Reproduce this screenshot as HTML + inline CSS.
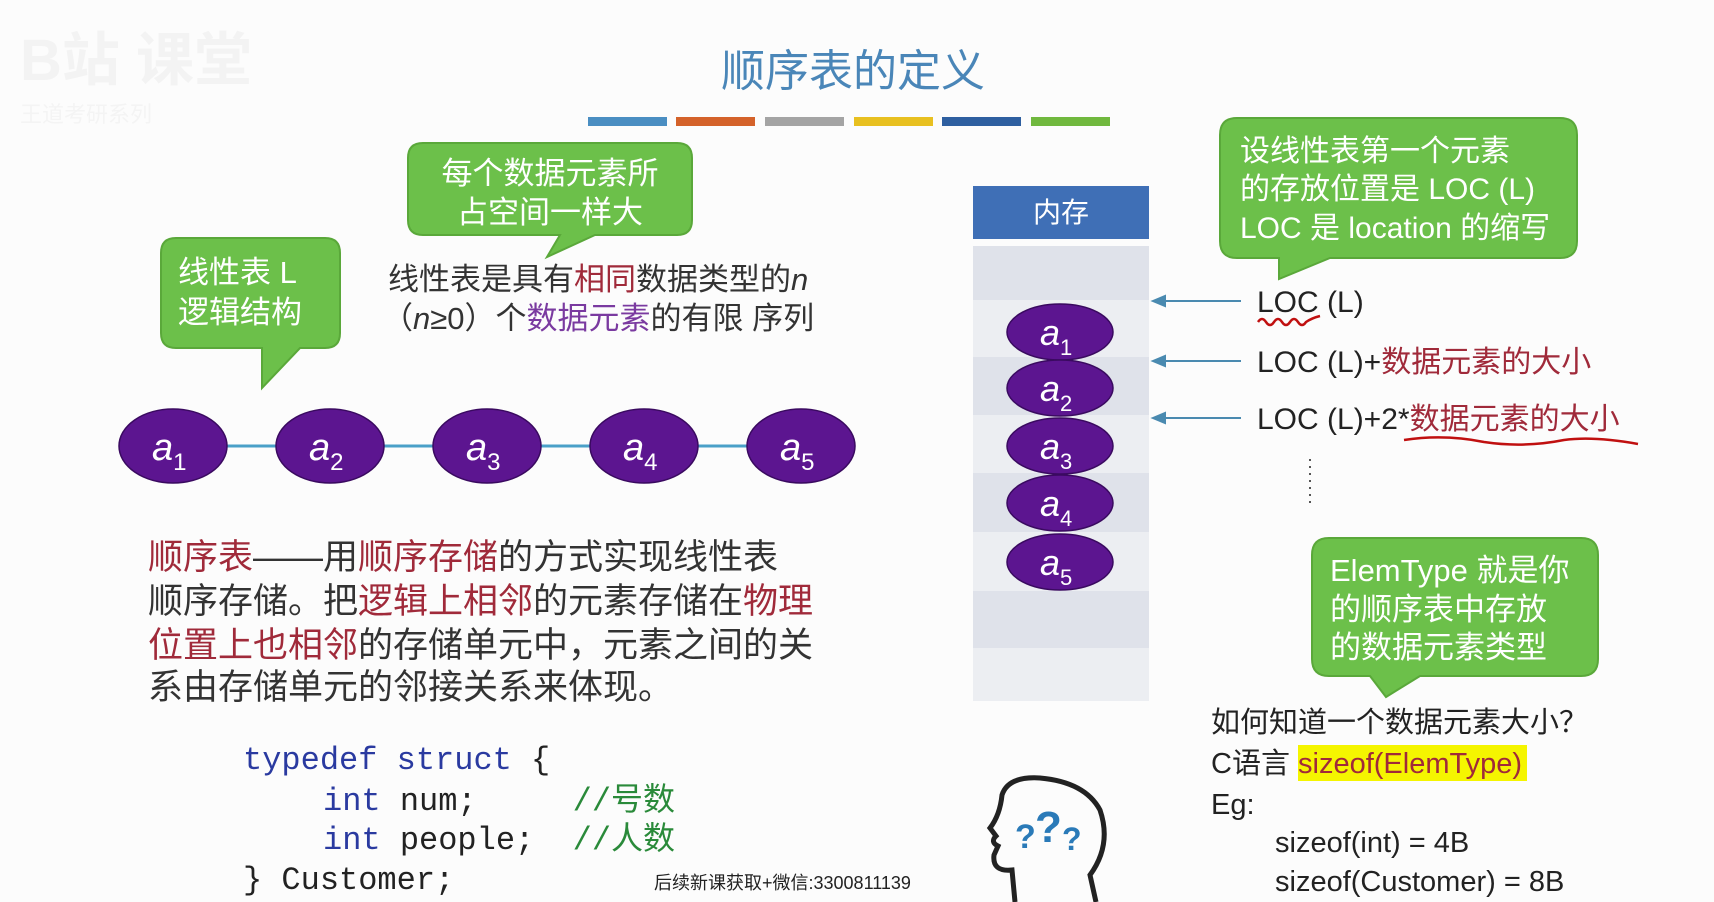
<!DOCTYPE html>
<html><head><meta charset="utf-8"><style>
html,body{margin:0;padding:0;background:#fcfcfc;}
svg{display:block;}
text{font-family:"Liberation Sans","Noto Sans CJK SC",sans-serif;}
text.mono,.mono text{font-family:"Liberation Mono","Noto Sans CJK SC",monospace;}
</style></head><body>
<svg width="1714" height="902" viewBox="0 0 1714 902" xmlns="http://www.w3.org/2000/svg">
<rect width="1714" height="902" fill="#fcfcfc"/>
<!-- faint logo -->
<text x="20" y="80" font-size="58" fill="#f3f3f3" font-weight="bold">B站  课堂</text>
<text x="20" y="122" font-size="22" fill="#f4f4f4">王道考研系列</text>
<!-- title -->
<text x="853" y="86" font-size="44" fill="#4a86b8" text-anchor="middle">顺序表的定义</text>
<rect x="588" y="117" width="79" height="9" fill="#4a8ec2"/>
<rect x="676" y="117" width="79" height="9" fill="#d4622a"/>
<rect x="765" y="117" width="79" height="9" fill="#a4a4a4"/>
<rect x="854" y="117" width="79" height="9" fill="#e8c020"/>
<rect x="942" y="117" width="79" height="9" fill="#2e5fa0"/>
<rect x="1031" y="117" width="79" height="9" fill="#70b83e"/>

<!-- bubble 1 -->
<path d="M423 143 H677 Q692 143 692 158 V220 Q692 235 677 235 H595 L547 257 L560 235 H423 Q408 235 408 220 V158 Q408 143 423 143Z" fill="#6cc04a" stroke="#5aa83a" stroke-width="2"/>
<text x="550" y="184" font-size="31" fill="#fff" text-anchor="middle">每个数据元素所</text>
<text x="550" y="223" font-size="31" fill="#fff" text-anchor="middle">占空间一样大</text>
<!-- bubble 2 -->
<path d="M176 238 H325 Q340 238 340 253 V333 Q340 348 325 348 H300 L262 388 L262 348 H176 Q161 348 161 333 V253 Q161 238 176 238Z" fill="#6cc04a" stroke="#5aa83a" stroke-width="2"/>
<text x="178" y="283" font-size="31" fill="#fff">线性表 L</text>
<text x="178" y="323" font-size="31" fill="#fff">逻辑结构</text>

<text x="388" y="290" font-size="31" fill="#333">线性表是具有<tspan fill="#a02a3a">相同</tspan>数据类型的<tspan font-style="italic">n</tspan></text>
<text x="382" y="329" font-size="31" fill="#333">（<tspan font-style="italic">n</tspan>≥0）个<tspan fill="#7a3aa0">数据元素</tspan>的有限 序列</text>

<!-- chain -->
<line x1="173" y1="446" x2="801" y2="446" stroke="#4aa0c8" stroke-width="3"/>
<g fill="#5c1590" stroke="#3a0a60" stroke-width="1.5">
<ellipse cx="173" cy="446" rx="54" ry="37"/><ellipse cx="330" cy="446" rx="54" ry="37"/><ellipse cx="487" cy="446" rx="54" ry="37"/><ellipse cx="644" cy="446" rx="54" ry="37"/><ellipse cx="801" cy="446" rx="54" ry="37"/>
</g>
<g fill="#fff" font-size="38" font-style="italic">
<text x="152" y="460">a<tspan font-size="24" dy="10" font-style="normal">1</tspan></text>
<text x="309" y="460">a<tspan font-size="24" dy="10" font-style="normal">2</tspan></text>
<text x="466" y="460">a<tspan font-size="24" dy="10" font-style="normal">3</tspan></text>
<text x="623" y="460">a<tspan font-size="24" dy="10" font-style="normal">4</tspan></text>
<text x="780" y="460">a<tspan font-size="24" dy="10" font-style="normal">5</tspan></text>
</g>

<!-- bottom text -->
<g font-size="35" fill="#333">
<text x="148" y="569"><tspan fill="#a02a3a">顺序表</tspan>——用<tspan fill="#a02a3a">顺序存储</tspan>的方式实现线性表</text>
<text x="148" y="613">顺序存储。把<tspan fill="#a02a3a">逻辑上相邻</tspan>的元素存储在<tspan fill="#a02a3a">物理</tspan></text>
<text x="148" y="657"><tspan fill="#a02a3a">位置上也相邻</tspan>的存储单元中，元素之间的关</text>
<text x="148" y="699">系由存储单元的邻接关系来体现。</text>
</g>
<!-- code -->
<g font-size="32" class="mono" fill="#222">
<text x="243" y="769" xml:space="preserve"><tspan fill="#2a3aa0">typedef struct</tspan> {</text>
<text x="323" y="810" xml:space="preserve"><tspan fill="#2a3aa0">int</tspan> num;     <tspan fill="#2a8a3a">//号数</tspan></text>
<text x="323" y="849" xml:space="preserve"><tspan fill="#2a3aa0">int</tspan> people;  <tspan fill="#2a8a3a">//人数</tspan></text>
<text x="243" y="889">} Customer;</text>
</g>
<text x="654" y="889" font-size="18" fill="#222">后续新课获取+微信:3300811139</text>

<!-- memory column -->
<rect x="973" y="186" width="176" height="53" fill="#3f6fb6"/>
<text x="1061" y="222" font-size="28" fill="#fff" text-anchor="middle">内存</text>
<rect x="973" y="246" width="176" height="54" fill="#dfe2ea"/>
<rect x="973" y="300" width="176" height="57" fill="#eceef2"/>
<rect x="973" y="357" width="176" height="58" fill="#dfe2ea"/>
<rect x="973" y="415" width="176" height="58" fill="#eceef2"/>
<rect x="973" y="473" width="176" height="59" fill="#dfe2ea"/>
<rect x="973" y="532" width="176" height="59" fill="#eceef2"/>
<rect x="973" y="591" width="176" height="57" fill="#dfe2ea"/>
<rect x="973" y="648" width="176" height="53" fill="#eceef2"/>
<g fill="#5c1590" stroke="#3a0a60" stroke-width="1.5">
<ellipse cx="1060" cy="332" rx="53" ry="28"/><ellipse cx="1060" cy="388" rx="53" ry="28"/><ellipse cx="1060" cy="446" rx="53" ry="28"/><ellipse cx="1060" cy="503" rx="53" ry="28"/><ellipse cx="1060" cy="562" rx="53" ry="28"/>
</g>
<g fill="#fff" font-size="36" font-style="italic">
<text x="1040" y="345">a<tspan font-size="22" dy="10" font-style="normal">1</tspan></text>
<text x="1040" y="401">a<tspan font-size="22" dy="10" font-style="normal">2</tspan></text>
<text x="1040" y="459">a<tspan font-size="22" dy="10" font-style="normal">3</tspan></text>
<text x="1040" y="516">a<tspan font-size="22" dy="10" font-style="normal">4</tspan></text>
<text x="1040" y="575">a<tspan font-size="22" dy="10" font-style="normal">5</tspan></text>
</g>
<!-- arrows -->
<g stroke="#4a8ab0" stroke-width="2" fill="#4a8ab0">
<line x1="1241" y1="301" x2="1160" y2="301"/><path d="M1153 301 L1165 296 L1165 306Z"/>
<line x1="1241" y1="361" x2="1160" y2="361"/><path d="M1153 361 L1165 356 L1165 366Z"/>
<line x1="1241" y1="418" x2="1160" y2="418"/><path d="M1153 418 L1165 413 L1165 423Z"/>
</g>
<g font-size="30" fill="#222">
<text x="1257" y="312">LOC (L)</text>
<text x="1257" y="372">LOC (L)+<tspan fill="#a02a3a">数据元素的大小</tspan></text>
<text x="1257" y="429">LOC (L)+2*<tspan fill="#a02a3a">数据元素的大小</tspan></text>
</g>
<path d="M1258 322 q4 -6 8 0 q4 6 8 0 q4 -6 8 0 q4 6 8 0 q4 -6 8 0 q4 6 8 0 q6 -4 14 -6" stroke="#c01010" stroke-width="2.5" fill="none"/>
<path d="M1404 440 q40 -6 80 2 q40 6 80 -2 q30 -4 74 4" stroke="#c01010" stroke-width="2.5" fill="none"/>
<line x1="1310" y1="459" x2="1310" y2="503" stroke="#555" stroke-width="2" stroke-dasharray="2,5"/>

<!-- bubble 3 -->
<path d="M1237 118 H1560 Q1577 118 1577 135 V241 Q1577 258 1560 258 H1330 L1279 279 L1279 258 H1237 Q1220 258 1220 241 V135 Q1220 118 1237 118Z" fill="#6cc04a" stroke="#5aa83a" stroke-width="2"/>
<g font-size="30" fill="#fff">
<text x="1240" y="161">设线性表第一个元素</text>
<text x="1240" y="199">的存放位置是 LOC (L)</text>
<text x="1240" y="238">LOC 是 location 的缩写</text>
</g>
<!-- bubble 4 -->
<path d="M1329 538 H1581 Q1598 538 1598 555 V659 Q1598 676 1581 676 H1420 L1386 697 L1370 676 H1329 Q1312 676 1312 659 V555 Q1312 538 1329 538Z" fill="#6cc04a" stroke="#5aa83a" stroke-width="2"/>
<g font-size="31" fill="#fff">
<text x="1330" y="581">ElemType 就是你</text>
<text x="1330" y="620">的顺序表中存放</text>
<text x="1330" y="658">的数据元素类型</text>
</g>
<!-- right bottom text -->
<rect x="1298" y="745" width="229" height="36" fill="#f5f500"/>
<g font-size="29" fill="#222">
<text x="1211" y="732">如何知道一个数据元素大小？</text>
<text x="1211" y="773">C语言 <tspan fill="#a02a3a">sizeof(ElemType)</tspan></text>
<text x="1211" y="814">Eg:</text>
<text x="1275" y="852">sizeof(int) = 4B</text>
<text x="1275" y="891">sizeof(Customer) = 8B</text>
</g>
<!-- head icon -->
<path d="M1015 902 L1012 870 Q992 872 994 855 L998 846 Q990 842 996 836 L990 828 Q1000 815 1002 795 Q1008 776 1040 778 Q1085 782 1100 810 Q1112 845 1090 875 L1096 902" stroke="#222" stroke-width="5" fill="none"/>
<text x="1015" y="848" font-size="34" font-weight="bold" fill="#2a7ab8">?</text>
<text x="1035" y="842" font-size="44" font-weight="bold" fill="#2a7ab8">?</text>
<text x="1062" y="850" font-size="32" font-weight="bold" fill="#2a7ab8">?</text>
</svg>
</body></html>
